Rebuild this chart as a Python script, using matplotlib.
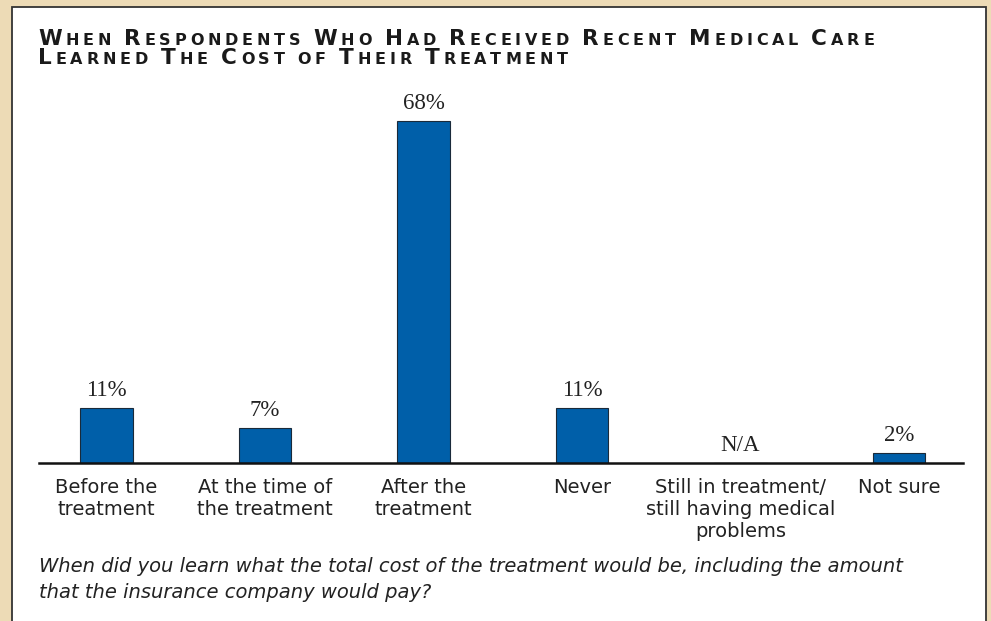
import matplotlib
matplotlib.use("Agg")
import matplotlib.pyplot as plt
from matplotlib.patches import Rectangle

# Data
categories = ["Before the\ntreatment", "At the time of\nthe treatment", "After the\ntreatment",
              "Never", "Still in treatment/\nstill having medical\nproblems", "Not sure"]
values = [11, 7, 68, 11, 0, 2]
value_labels = ["11%", "7%", "68%", "11%", "N/A", "2%"]

title_lines = ["When Respondents Who Had Received Recent Medical Care",
               "Learned The Cost of Their Treatment"]
footnote = ("When did you learn what the total cost of the treatment would be, including the amount\n"
            "that the insurance company would pay?")

W, H = 991, 621
fig = plt.figure(figsize=(W / 100, H / 100), dpi=100)
fig.patch.set_facecolor("#EDDBB6")

# white panel with dark border
panel = Rectangle((12 / W, -0.01), 974 / W, (614 / H) + 0.01, transform=fig.transFigure,
                  facecolor="white", edgecolor="#333333", linewidth=1.3, zorder=-5)
fig.patches.append(panel)

ax = fig.add_axes([39 / W, 158 / H, 924 / W, 377 / H], zorder=2)
ax.set_facecolor("none")
x = list(range(len(categories)))
ax.bar(x, values, width=0.334, color="#005FA9", edgecolor="#1a2a3a", linewidth=0.8, zorder=2)
ax.set_xlim(-0.426, 5.404)
ax.set_ylim(0, 75)

for xi, v, lab in zip(x, values, value_labels):
    ax.annotate(lab, (xi, v), xytext=(0, 5), textcoords="offset points", ha="center", va="bottom",
                fontsize=16.5, family="Liberation Serif", color="#222222")

for s in ["top", "right", "left"]:
    ax.spines[s].set_visible(False)
ax.spines["bottom"].set_linewidth(1.8)
ax.spines["bottom"].set_color("#111111")
ax.set_yticks([])
ax.set_xticks(x)
ax.set_xticklabels(categories, fontsize=14, family="DejaVu Sans", color="#222222", linespacing=1.22)
ax.tick_params(axis="x", length=0, pad=10.5)

# small-caps title drawn letter by letter, tracked to the reference width
renderer = fig.canvas.get_renderer()
big, small = 15.5, 11.5


def draw_small_caps(text, x0, y0, tracking):
    xp = x0
    for ch in text:
        size = big if ch.isupper() else small
        t = fig.text(xp / W, 1 - y0 / H, ch.upper(), fontsize=size, family="DejaVu Sans",
                     weight="bold", color="#1a1a1a", ha="left", va="baseline")
        if ch == " ":
            adv = size * 100 / 72 * 0.35
        else:
            adv = t.get_window_extent(renderer).width
        xp += adv + tracking
    return xp


probe = draw_small_caps(title_lines[0], 0, -100, 0)
for t in list(fig.texts):
    t.remove()
track = (836 - probe) / (len(title_lines[0]) - 1)
draw_small_caps(title_lines[0], 38, 45, track)
draw_small_caps(title_lines[1], 38, 64, track)

fig.text(39 / W, 1 - 557 / H, footnote, fontsize=14, family="DejaVu Sans", style="oblique",
         color="#222222", ha="left", va="top", linespacing=1.45)

fig.savefig("out.png", dpi=100, facecolor=fig.get_facecolor())
